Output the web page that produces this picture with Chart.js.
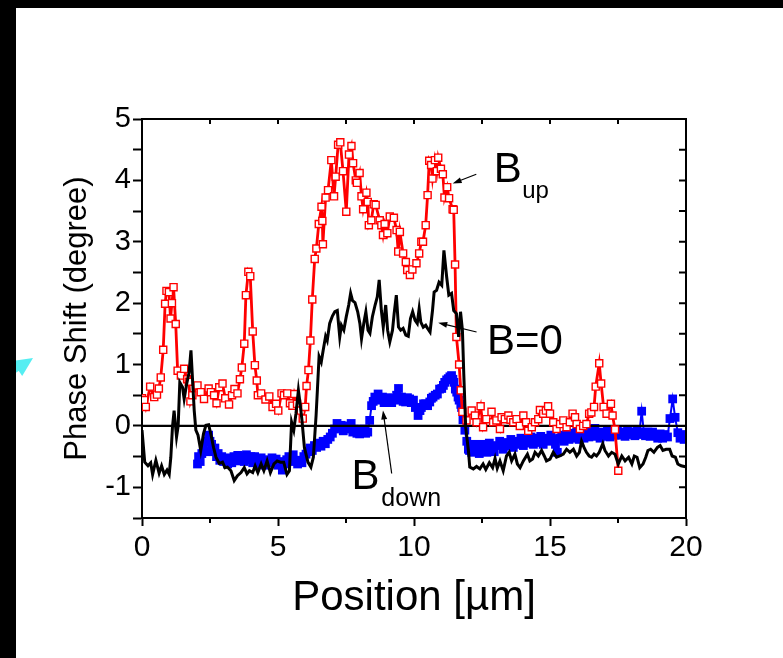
<!DOCTYPE html>
<html>
<head>
<meta charset="utf-8">
<script src="https://cdn.jsdelivr.net/npm/chart.js@4.4.1/dist/chart.umd.min.js"></script>
<style>
html,body{margin:0;padding:0;background:#fff;overflow:hidden}
#wrap{width:783px;height:658px;position:relative}
canvas{display:block}
</style>
</head>
<body>
<div id="wrap"><canvas id="c" width="783" height="658"></canvas></div>
<script>
// ---------------- data ----------------
const xTickValues = [0, 2.5, 5, 7.5, 10, 12.5, 15, 17.5, 20];
const yTickValues = [-1.5, -1, -0.5, 0, 0.5, 1, 1.5, 2, 2.5, 3, 3.5, 4, 4.5, 5];

// B_up (red open squares)
const redX = [0.0,0.08,0.14,0.3,0.45,0.55,0.62,0.69,0.78,0.85,
0.9,0.99,1.05,1.1,1.16,1.24,1.31,1.43,1.55,1.66,
1.72,1.78,1.85,2.04,2.16,2.28,2.45,2.53,2.65,2.74,
2.84,2.96,3.06,3.2,3.31,3.4,3.51,3.6,3.67,3.76,
3.82,3.91,3.98,4.07,4.15,4.22,4.26,4.38,4.54,4.68,
4.8,4.93,5.01,5.13,5.22,5.34,5.44,5.53,5.6,5.7,
5.84,5.91,6.0,6.05,6.12,6.19,6.26,6.35,6.41,6.5,
6.6,6.63,6.65,6.75,6.84,6.96,7.06,7.12,7.21,7.29,
7.39,7.51,7.61,7.7,7.76,7.86,7.9,8.0,8.07,8.13,
8.25,8.3,8.34,8.43,8.52,8.59,8.74,8.8,8.86,8.92,
9.02,9.11,9.26,9.36,9.42,9.48,9.6,9.7,9.75,9.85,
9.94,10.09,10.19,10.27,10.33,10.43,10.5,10.56,10.63,10.68,
10.77,10.84,10.89,10.99,11.06,11.12,11.22,11.29,11.42,11.46,
11.51,11.56,11.66,11.72,11.78,11.93,12.12,12.24,12.3,12.45,
12.54,12.66,12.85,12.91,13.03,13.16,13.22,13.34,13.47,13.55,
13.65,13.77,13.89,14.02,14.12,14.2,14.33,14.45,14.57,14.63,
14.75,14.85,14.93,15.0,15.12,15.24,15.37,15.49,15.61,15.73,
15.83,15.92,15.98,16.1,16.22,16.34,16.44,16.52,16.62,16.68,
16.81,16.88,16.97,17.08,17.24,17.3,17.39,17.51];
const redY = [0.45,0.42,0.31,0.64,0.47,0.51,0.61,0.79,1.24,1.99,
2.2,2.18,1.75,2.0,2.26,1.66,0.9,0.82,0.93,0.76,
0.72,0.4,0.5,0.66,0.55,0.44,0.61,0.55,0.5,0.37,
0.63,0.69,0.45,0.35,0.5,0.6,0.53,0.76,0.95,1.34,
2.13,2.51,2.44,1.54,0.99,0.74,0.5,0.53,0.43,0.48,
0.31,0.36,0.25,0.53,0.5,0.53,0.37,0.33,0.52,0.36,
0.25,0.12,0.31,0.65,0.91,1.39,2.06,2.72,2.89,3.29,
3.57,3.34,2.96,3.72,3.84,4.33,3.74,4.06,4.58,4.62,
4.15,3.49,4.42,4.56,4.28,4.0,3.96,4.12,3.74,3.53,
3.8,3.65,3.27,3.35,3.61,3.6,3.35,3.27,3.11,3.29,
3.14,3.41,3.39,3.19,2.84,3.16,2.81,2.67,2.54,2.46,
2.55,2.65,2.81,3.0,3.0,3.27,3.76,4.32,4.25,4.03,
4.33,4.15,4.37,4.19,4.1,3.72,3.89,3.71,3.53,3.52,
2.63,1.45,1.0,0.58,0.23,0.09,0.25,0.17,0.06,0.32,
-0.02,0.11,0.23,0.06,0.09,-0.05,0.14,0.11,0.17,0.1,
0.06,0.11,0.0,0.17,0.06,-0.08,-0.02,0.06,0.11,0.26,
0.2,0.25,0.32,0.2,0.06,-0.05,0.03,0.09,-0.02,0.06,
0.2,0.14,0.03,-0.05,0.0,0.03,0.2,0.22,0.31,0.64,
1.02,0.69,0.31,0.2,0.36,0.17,-0.06,-0.73];

// B=0 (black line)
const blackX = [0.0,0.1,0.22,0.32,0.39,0.51,0.63,0.72,0.82,0.92,
1.0,1.06,1.12,1.18,1.27,1.33,1.39,1.49,1.55,1.64,
1.73,1.8,1.86,1.92,1.98,2.06,2.16,2.26,2.35,2.45,
2.53,2.63,2.72,2.84,2.96,3.05,3.14,3.27,3.39,3.51,
3.64,3.76,3.86,3.95,4.07,4.16,4.26,4.38,4.48,4.6,
4.72,4.85,4.97,5.09,5.21,5.33,5.42,5.5,5.58,5.66,
5.75,5.81,5.88,5.97,6.1,6.21,6.3,6.4,6.45,6.51,
6.59,6.66,6.75,6.81,6.9,7.0,7.09,7.18,7.27,7.33,
7.42,7.51,7.6,7.67,7.74,7.83,7.93,8.01,8.07,8.16,
8.23,8.31,8.38,8.47,8.57,8.65,8.72,8.8,8.87,8.96,
9.03,9.11,9.21,9.27,9.35,9.43,9.51,9.6,9.7,9.79,
9.87,9.95,10.04,10.12,10.19,10.25,10.34,10.43,10.5,10.59,
10.68,10.74,10.83,10.92,11.02,11.1,11.2,11.28,11.38,11.46,
11.56,11.64,11.71,11.78,11.83,11.9,12.0,12.05,12.18,12.3,
12.42,12.54,12.64,12.77,12.89,12.98,13.06,13.16,13.28,13.4,
13.5,13.59,13.71,13.8,13.9,14.02,14.17,14.26,14.36,14.45,
14.57,14.69,14.79,14.87,15.0,15.12,15.24,15.36,15.49,15.61,
15.73,15.86,15.98,16.08,16.16,16.25,16.34,16.44,16.53,16.62,
16.71,16.81,16.94,17.02,17.15,17.27,17.39,17.51,17.64,17.76,
17.89,18.01,18.1,18.2,18.3,18.42,18.52,18.6,18.7,18.82,
18.95,19.05,19.15,19.27,19.4,19.49,19.61,19.7,19.82,19.94,
20.0];
const blackY = [-0.07,-0.59,-0.65,-0.6,-0.79,-0.56,-0.77,-0.65,-0.79,-0.72,
-0.79,-0.51,-0.02,0.25,-0.18,0.0,0.71,0.63,0.44,0.68,
0.87,1.23,0.74,0.25,-0.07,-0.15,-0.4,-0.13,0.01,0.02,
-0.13,-0.35,-0.51,-0.61,-0.59,-0.68,-0.67,-0.73,-0.89,-0.81,
-0.76,-0.68,-0.78,-0.73,-0.76,-0.65,-0.76,-0.62,-0.73,-0.57,
-0.76,-0.62,-0.57,-0.59,-0.59,-0.79,-0.73,0.06,-0.07,0.2,
0.58,0.37,0.1,-0.35,-0.59,-0.67,-0.51,0.17,0.6,1.13,
1.04,1.23,1.46,1.39,1.67,1.79,1.86,1.88,1.45,1.64,
1.56,1.78,1.97,2.16,2.04,2.01,1.86,1.67,1.42,1.69,
1.86,1.56,1.51,1.78,1.97,2.1,2.38,1.88,1.61,1.97,
1.56,1.37,1.56,1.83,2.13,1.61,1.56,1.59,1.48,1.46,
1.75,1.86,1.72,1.67,1.91,1.69,1.61,1.64,1.59,1.53,
1.88,2.18,2.21,2.34,2.29,2.86,2.43,2.13,2.16,1.88,
1.83,1.45,1.86,1.56,0.85,-0.02,-0.4,-0.67,-0.7,-0.66,
-0.7,-0.62,-0.71,-0.6,-0.68,-0.53,-0.69,-0.57,-0.73,-0.49,
-0.43,-0.57,-0.46,-0.62,-0.68,-0.57,-0.46,-0.57,-0.54,-0.43,
-0.49,-0.4,-0.49,-0.57,-0.54,-0.43,-0.51,-0.49,-0.46,-0.38,
-0.43,-0.38,-0.49,-0.43,-0.25,-0.35,-0.43,-0.49,-0.51,-0.46,
-0.49,-0.43,-0.29,-0.4,-0.49,-0.43,-0.46,-0.62,-0.49,-0.57,
-0.51,-0.62,-0.49,-0.51,-0.68,-0.62,-0.51,-0.4,-0.38,-0.43,
-0.35,-0.32,-0.4,-0.38,-0.38,-0.49,-0.51,-0.62,-0.65,-0.66,
-0.67];

// B_down (blue filled squares)
const blueX = [2.04,2.08,2.14,2.2,2.26,2.32,2.38,2.45,2.5,2.56,
2.62,2.68,2.74,2.8,2.86,2.93,3.0,3.08,3.15,3.22,
3.3,3.38,3.45,3.52,3.6,3.68,3.76,3.84,3.92,4.0,
4.07,4.14,4.22,4.3,4.38,4.46,4.54,4.62,4.7,4.78,
4.86,4.93,5.0,5.08,5.16,5.24,5.32,5.4,5.48,5.56,
5.64,5.72,5.8,5.88,5.95,6.03,6.1,6.18,6.26,6.34,
6.42,6.5,6.58,6.66,6.74,6.83,6.92,7.0,7.08,7.17,
7.25,7.32,7.4,7.5,7.6,7.69,7.75,7.81,7.9,8.0,
8.08,8.15,8.22,8.3,8.37,8.44,8.5,8.56,8.62,8.68,
8.76,8.84,8.9,8.96,9.03,9.1,9.18,9.24,9.29,9.36,
9.43,9.5,9.54,9.6,9.69,9.76,9.84,9.9,9.98,10.05,
10.15,10.22,10.27,10.35,10.43,10.5,10.58,10.64,10.7,10.78,
10.86,10.94,11.02,11.08,11.13,11.2,11.26,11.32,11.38,11.43,
11.47,11.52,11.57,11.62,11.66,11.72,11.75,11.8,11.87,11.94,
12.0,12.04,12.12,12.2,12.3,12.4,12.49,12.58,12.68,12.77,
12.86,12.95,13.05,13.15,13.28,13.37,13.47,13.56,13.65,13.75,
13.84,13.93,14.02,14.11,14.2,14.3,14.39,14.48,14.57,14.66,
14.75,14.85,14.94,15.03,15.12,15.2,15.27,15.35,15.43,15.52,
15.61,15.7,15.8,15.89,15.98,16.07,16.16,16.25,16.34,16.43,
16.53,16.6,16.65,16.75,16.84,16.93,17.02,17.11,17.21,17.3,
17.39,17.48,17.57,17.66,17.76,17.85,17.94,18.04,18.12,18.2,
18.28,18.37,18.45,18.51,18.6,18.68,18.77,18.87,18.96,19.05,
19.14,19.23,19.32,19.41,19.51,19.6,19.7,19.78,19.85,19.93,
20.0];
const blueY = [-0.62,-0.5,-0.58,-0.45,-0.38,-0.42,-0.25,-0.15,-0.25,-0.3,
-0.42,-0.36,-0.5,-0.45,-0.56,-0.5,-0.58,-0.52,-0.62,-0.55,
-0.6,-0.5,-0.57,-0.48,-0.56,-0.5,-0.58,-0.47,-0.55,-0.5,
-0.6,-0.5,-0.56,-0.62,-0.52,-0.58,-0.64,-0.55,-0.6,-0.52,
-0.6,-0.54,-0.64,-0.58,-0.72,-0.62,-0.55,-0.5,-0.58,-0.47,
-0.56,-0.62,-0.56,-0.6,-0.5,-0.46,-0.42,-0.36,-0.4,-0.32,
-0.35,-0.28,-0.33,-0.25,-0.29,-0.22,-0.18,-0.12,-0.05,0.04,
-0.02,0.01,-0.08,-0.05,0.0,0.04,-0.1,-0.05,-0.12,-0.13,
-0.08,-0.05,-0.12,-0.1,0.09,0.33,0.4,0.47,0.42,0.52,
0.45,0.47,0.38,0.42,0.46,0.44,0.38,0.45,0.42,0.5,
0.61,0.44,0.47,0.4,0.39,0.46,0.44,0.38,0.42,0.3,
0.17,0.25,0.3,0.36,0.36,0.33,0.39,0.45,0.47,0.5,
0.52,0.6,0.61,0.66,0.71,0.75,0.77,0.8,0.82,0.76,
0.71,0.6,0.55,0.47,0.42,0.35,0.3,0.1,-0.07,-0.25,
-0.38,-0.4,-0.43,-0.3,-0.35,-0.45,-0.3,-0.38,-0.43,-0.28,
-0.35,-0.42,-0.32,-0.25,-0.38,-0.27,-0.33,-0.22,-0.35,-0.25,
-0.3,-0.2,-0.32,-0.22,-0.28,-0.18,-0.3,-0.2,-0.27,-0.17,
-0.3,-0.2,-0.25,-0.15,-0.22,-0.3,-0.43,-0.2,-0.15,-0.25,
-0.14,-0.22,-0.12,-0.2,-0.1,-0.22,-0.14,-0.2,-0.1,-0.18,
-0.08,-0.17,-0.04,-0.15,-0.2,-0.1,-0.17,-0.08,-0.18,-0.1,
-0.15,-0.07,-0.15,-0.1,-0.17,-0.08,-0.14,-0.1,-0.16,-0.08,
-0.14,0.24,-0.1,-0.16,-0.1,-0.17,-0.1,-0.15,-0.2,-0.13,
-0.2,-0.14,-0.18,0.12,0.44,0.14,-0.11,-0.2,-0.14,-0.22,
-0.18];

// zero reference line
const zeroX = [0, 20];
const zeroY = [0, 0];

// annotation labels (data coordinates) and arrows
const labelTexts = ['B', 'up', 'B=0', 'B', 'down'];
const labelX = [12.93, 13.98, 12.68, 7.7, 8.8];
const labelY = [3.977, 3.72, 1.178, -1.02, -1.297];
const labelSize = [42, 24, 42, 42, 25];
const arrowFromX = [12.29, 12.3, 9.18];
const arrowFromY = [4.10, 1.53, -0.775];
const arrowToX = [11.42, 10.89, 8.86];
const arrowToY = [3.95, 1.68, 0.253];

// ---------------- chart ----------------
const FONT = '"Liberation Sans", Arial, Helvetica, sans-serif';
const pts = (xs, ys) => xs.map((x, i) => ({x, y: ys[i]}));

function arrowHead(ctx, x0, y0, x1, y1, len, half) {
  const ang = Math.atan2(y1 - y0, x1 - x0);
  ctx.beginPath();
  ctx.moveTo(x1, y1);
  ctx.lineTo(x1 - len * Math.cos(ang) + half * Math.sin(ang), y1 - len * Math.sin(ang) - half * Math.cos(ang));
  ctx.lineTo(x1 - len * Math.cos(ang) - half * Math.sin(ang), y1 - len * Math.sin(ang) + half * Math.cos(ang));
  ctx.closePath();
  ctx.fill();
}

const decor = {
  id: 'decor',
  beforeDraw(chart) {
    const c = chart.ctx;
    c.save(); c.fillStyle = '#fff'; c.fillRect(0, 0, chart.width, chart.height); c.restore();
  },
  afterDatasetsDraw(chart) {
    const {ctx, chartArea: a, scales: {x, y}} = chart;
    ctx.save();
    ctx.strokeStyle = '#000';
    ctx.lineWidth = 2;
    ctx.beginPath();
    ctx.moveTo(a.left - 1, a.top); ctx.lineTo(a.right, a.top); ctx.lineTo(a.right, a.bottom + 1);
    for (const v of xTickValues) {
      const px = x.getPixelForValue(v);
      ctx.moveTo(px, a.top); ctx.lineTo(px, a.top + 5);
      if (v % 5 !== 0) { ctx.moveTo(px, a.bottom); ctx.lineTo(px, a.bottom + 5); }
    }
    for (const v of yTickValues) {
      const py = y.getPixelForValue(v);
      ctx.moveTo(a.right, py); ctx.lineTo(a.right - 7, py);
    }
    ctx.stroke();

    // annotations
    ctx.fillStyle = '#000';
    ctx.textAlign = 'left';
    ctx.textBaseline = 'alphabetic';
    labelTexts.forEach((t, i) => {
      ctx.font = labelSize[i] + 'px ' + FONT;
      ctx.fillText(t, x.getPixelForValue(labelX[i]), y.getPixelForValue(labelY[i]));
    });
    ctx.lineWidth = 1.2;
    arrowFromX.forEach((_, i) => {
      const x0 = x.getPixelForValue(arrowFromX[i]), y0 = y.getPixelForValue(arrowFromY[i]);
      const x1 = x.getPixelForValue(arrowToX[i]), y1 = y.getPixelForValue(arrowToY[i]);
      const ang = Math.atan2(y1 - y0, x1 - x0);
      ctx.beginPath();
      ctx.moveTo(x0, y0);
      ctx.lineTo(x1 - 6 * Math.cos(ang), y1 - 6 * Math.sin(ang));
      ctx.stroke();
      arrowHead(ctx, x0, y0, x1, y1, 9, 3);
    });
    ctx.restore();
  },
  afterDraw(chart) {
    const ctx = chart.ctx;
    ctx.save();
    // cyan arrow at the left margin
    ctx.strokeStyle = '#55EEF2';
    ctx.fillStyle = '#55EEF2';
    ctx.lineWidth = 5;
    ctx.beginPath(); ctx.moveTo(0, 380); ctx.lineTo(22, 366); ctx.stroke();
    arrowHead(ctx, 0, 380, 33, 358, 19, 9);
    // black frame strips
    ctx.fillStyle = '#000';
    ctx.fillRect(0, 0, chart.width, 8);
    ctx.fillRect(0, 0, 16, chart.height);
    ctx.restore();
  }
};

new Chart(document.getElementById('c'), {
  type: 'line',
  data: {
    datasets: [
      {label: 'B=0', data: pts(blackX, blackY), borderColor: '#000', borderWidth: 3,
       pointRadius: 0, tension: 0, order: 1},
      {label: 'B_up', data: pts(redX, redY), borderColor: '#FF0000', borderWidth: 2.8,
       pointStyle: 'rect', pointRadius: 5, pointBackgroundColor: '#FFFFFF',
       pointBorderColor: '#FF0000', pointBorderWidth: 1.4, tension: 0, order: 2},
      {label: 'zero', data: pts(zeroX, zeroY), borderColor: '#000', borderWidth: 2.4,
       pointRadius: 0, order: 3},
      {label: 'B_down', data: pts(blueX, blueY), borderColor: '#0000FF', borderWidth: 2,
       pointStyle: 'rect', pointRadius: 6.2, pointBackgroundColor: '#0000FF',
       pointBorderWidth: 0, tension: 0, order: 4}
    ]
  },
  options: {
    responsive: false,
    devicePixelRatio: 1,
    animation: false,
    events: [],
    layout: {padding: {left: 0, top: 119, right: 97, bottom: 0}},
    plugins: {legend: {display: false}, tooltip: {enabled: false}},
    scales: {
      x: {
        type: 'linear', position: 'bottom', min: 0, max: 20,
        afterFit(s) { s.height = 140; },
        afterBuildTicks(s) { s.ticks = xTickValues.map(v => ({value: v})); },
        ticks: {autoSkip: false, maxRotation: 0, minRotation: 0, color: '#000', padding: 4,
                font: {family: FONT, size: 30},
                callback: v => (v % 5 === 0 ? String(v) : '')},
        grid: {drawOnChartArea: false, tickLength: 8, tickWidth: 2,
               tickColor: c => (c.tick && c.tick.value % 5 === 0 ? '#000' : 'rgba(0,0,0,0)')},
        border: {display: true, color: '#000', width: 2},
        title: {display: true, text: 'Position [\u00b5m]', color: '#000',
                font: {family: FONT, size: 42}, padding: {top: 0, bottom: 34}}
      },
      y: {
        type: 'linear', position: 'left', min: -1.5, max: 5,
        afterFit(s) { s.width = 142; },
        afterBuildTicks(s) { s.ticks = yTickValues.map(v => ({value: v})); },
        ticks: {autoSkip: false, color: '#000', padding: 2,
                font: {family: FONT, size: 29},
                callback: v => (Number.isInteger(v) ? String(v) : '')},
        grid: {drawOnChartArea: false, tickLength: 9, tickWidth: 2, tickColor: '#000'},
        border: {display: true, color: '#000', width: 2},
        title: {display: true, text: 'Phase Shift (degree)', color: '#000',
                font: {family: FONT, size: 31}, padding: {top: 59, bottom: 0}}
      }
    }
  },
  plugins: [decor]
});
</script>
</body>
</html>
